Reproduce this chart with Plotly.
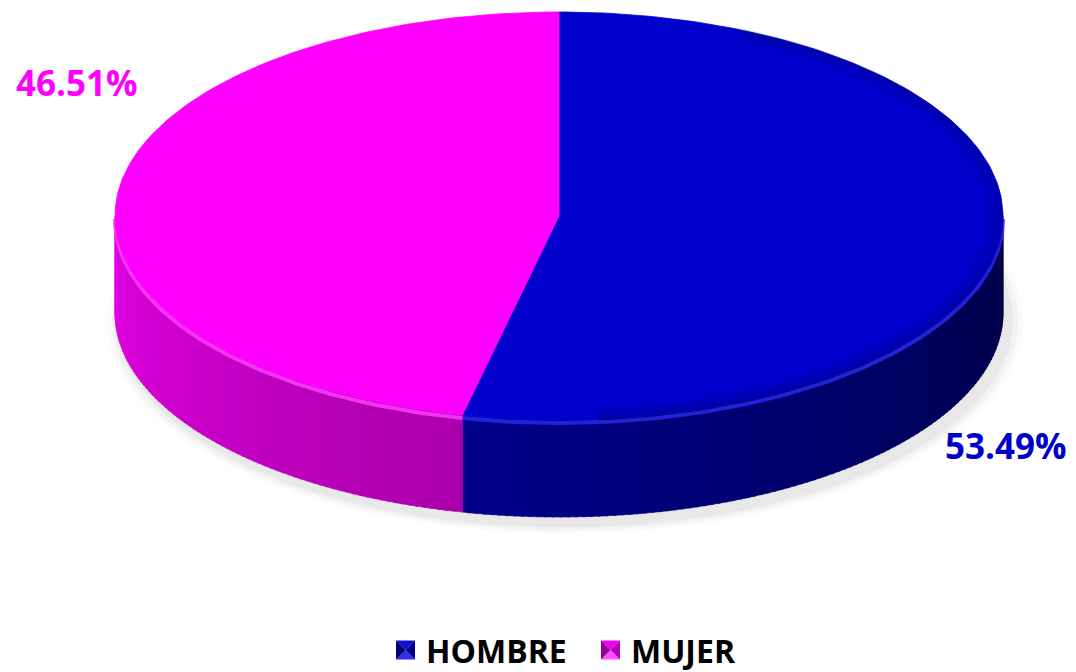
import numpy as np
import plotly.graph_objects as go

# ---- data ----
categories = ["HOMBRE", "MUJER"]
values = [53.49, 46.51]
labels = ["53.49%", "46.51%"]
top_colors = ["#0000CC", "#FF00FF"]
text_colors = ["#0000CC", "#FF00FF"]

# ---- geometry (pixel space, y downward) ----
W, H = 1076, 672
cx, cy, a, b, depth = 559, 216, 444, 204, 97

def ex(t, shrink=0.0):
    return cx + (a - shrink) * np.sin(np.radians(t))

def ey(t, dz=0.0, shrink=0.0):
    return cy - (b - shrink * b / a) * np.cos(np.radians(t)) + dz

def lerp_color(c1, c2, f):
    c1 = np.array(c1, float); c2 = np.array(c2, float)
    c = c1 + (c2 - c1) * f
    return "rgb(%d,%d,%d)" % tuple(np.clip(c, 0, 255).round())

fig = go.Figure()

# soft shadow under the cake
for grow, alpha in [(14, 0.02), (9, 0.03), (4, 0.04)]:
    t = np.linspace(0, 360, 200)
    fig.add_trace(go.Scatter(
        x=cx + 6 + (a + grow) * np.sin(np.radians(t)),
        y=cy + depth + 8 + (b + grow * 0.6) * -np.cos(np.radians(t)),
        fill="toself", fillcolor="rgba(0,0,0,%g)" % alpha,
        line=dict(width=0), mode="lines", hoverinfo="skip", showlegend=False))

# slice angles (clockwise from 12 o'clock)
total = sum(values)
bounds = [0.0]
for v in values:
    bounds.append(bounds[-1] + v / total * 360.0)

# side-wall shading per slice
side_shades = {
    0: ((0, 0, 70), (0, 0, 140)),
    1: ((170, 0, 170), (228, 0, 228)),
}

for i in range(len(values)):
    t0, t1 = bounds[i], bounds[i + 1]
    lo, hi = max(t0, 90.0), min(t1, 270.0)
    if hi <= lo:
        continue
    n = int((hi - lo) / 1.0) + 1
    edges = np.linspace(lo, hi, n + 1)
    c_start, c_end = side_shades[i]
    for k in range(n):
        s0, s1 = edges[k], min(edges[k + 1] + 0.3, hi)
        tt = np.linspace(s0, s1, 4)
        xs = np.concatenate([ex(tt), ex(tt[::-1])])
        ys = np.concatenate([ey(tt), ey(tt[::-1], depth)])
        f = (0.5 * (s0 + s1) - lo) / (hi - lo)
        col = lerp_color(c_start, c_end, f)
        fig.add_trace(go.Scatter(
            x=np.append(xs, xs[0]), y=np.append(ys, ys[0]),
            fill="toself", fillcolor=col, line=dict(width=0.6, color=col),
            mode="lines", hoverinfo="skip", showlegend=False))

# bevel highlight along the top rim of the wall
rim_cols = ["rgba(40,40,235,0.85)", "rgba(255,60,255,0.85)"]
for i in range(len(values)):
    lo, hi = max(bounds[i], 90.0), min(bounds[i + 1], 270.0)
    if hi <= lo:
        continue
    tt = np.linspace(lo, hi, 120)
    fig.add_trace(go.Scatter(
        x=ex(tt), y=ey(tt, 3), mode="lines",
        line=dict(width=4, color=rim_cols[i]), hoverinfo="skip", showlegend=False))

# top face slices
for i in range(len(values)):
    tt = np.linspace(bounds[i], bounds[i + 1], 200)
    xs = np.concatenate([[cx], ex(tt), [cx]])
    ys = np.concatenate([[cy], ey(tt), [cy]])
    fig.add_trace(go.Scatter(
        x=xs, y=ys, fill="toself", fillcolor=top_colors[i],
        line=dict(width=0.8, color=top_colors[i]), mode="lines",
        hoverinfo="skip", showlegend=False))

# subtle darkening of the blue top face toward its right rim
tt = np.linspace(max(bounds[0], 25), min(bounds[1], 175), 150)
for shrink, w, alpha in [(10, 14, 0.06), (6, 9, 0.08), (3, 5, 0.10)]:
    fig.add_trace(go.Scatter(
        x=ex(tt, shrink), y=ey(tt, 0, shrink), mode="lines",
        line=dict(width=w, color="rgba(0,0,60,%g)" % alpha),
        hoverinfo="skip", showlegend=False))

# data labels
label_pos = {0: (1006, 445), 1: (77, 82)}
for i, lab in enumerate(labels):
    px, py = label_pos[i]
    fig.add_annotation(x=px, y=py, text="<b>%s</b>" % lab, showarrow=False,
                       font=dict(family="Open Sans", size=35, color=text_colors[i]),
                       xanchor="center", yanchor="middle")

# legend (keys drawn as bevelled squares + bold labels)
legend_x = [396, 601]          # left edge of each key square (px)
legend_y = 650                 # vertical centre of legend row (px)
key = 19
key_shades = [
    ["#1010D0", "#3030E8", "#000070", "#00008A"],
    ["#F000F0", "#FF50FF", "#900090", "#B000B0"],
]
for i, c in enumerate(categories):
    x0, y0 = legend_x[i], legend_y - key / 2
    x1, y1 = x0 + key, y0 + key
    xm, ym = (x0 + x1) / 2, (y0 + y1) / 2
    tris = [
        [(x0, y0), (x1, y0), (xm, ym)],
        [(x0, y1), (x1, y1), (xm, ym)],
        [(x0, y0), (x0, y1), (xm, ym)],
        [(x1, y0), (x1, y1), (xm, ym)],
    ]
    for tri, col in zip(tris, key_shades[i]):
        path = "M %g %g L %g %g L %g %g Z" % (tri[0] + tri[1] + tri[2])
        fig.add_shape(type="path", path=path, xref="x", yref="y",
                      fillcolor=col, line=dict(width=0), layer="above")
    fig.add_annotation(x=x1 + 9, y=legend_y, text="<b>%s</b>" % c, showarrow=False,
                       font=dict(family="Open Sans", size=32, color="black"),
                       xanchor="left", yanchor="middle")

fig.update_layout(
    width=W, height=H, autosize=False,
    margin=dict(l=0, r=0, t=0, b=0),
    paper_bgcolor="white", plot_bgcolor="white",
    xaxis=dict(range=[0, W], visible=False, fixedrange=True),
    yaxis=dict(range=[H, 0], visible=False, fixedrange=True),
    showlegend=False,
)

fig.write_html("out.html", config={"displayModeBar": False},
               post_script="document.body.style.margin='0px';document.body.style.overflow='hidden';")
